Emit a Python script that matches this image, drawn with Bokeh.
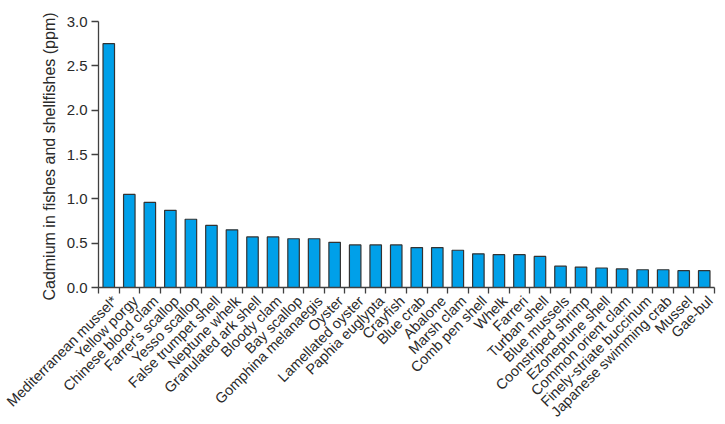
import math
from bokeh.plotting import figure
from bokeh.models import FixedTicker, NumeralTickFormatter, Range1d, ColumnDataSource
from bokeh.core.properties import value
from bokeh.embed import file_html
from bokeh.resources import INLINE

species = [
    "Mediterranean mussel*", "Yellow porgy", "Chinese blood clam", "Farrer's scallop",
    "Yesso scallop", "False trumpet shell", "Neptune whelk", "Granulated ark shell",
    "Bloody clam", "Bay scallop", "Gomphina melanaegis", "Oyster", "Lamellated oyster",
    "Paphia euglypta", "Crayfish", "Blue crab", "Abalone", "Marsh clam", "Comb pen shell",
    "Whelk", "Farreri", "Turban shell", "Blue mussels", "Coonstriped shrimp",
    "Ezoneptune shell", "Common orient clam", "Finely-striate buccinum",
    "Japanese swimming crab", "Mussel", "Gae-bul",
]
cadmium = [
    2.75, 1.05, 0.96, 0.87, 0.77, 0.70, 0.65, 0.57, 0.57, 0.55, 0.55, 0.51, 0.48,
    0.48, 0.48, 0.45, 0.45, 0.42, 0.38, 0.37, 0.37, 0.35, 0.24, 0.23, 0.22, 0.21,
    0.20, 0.20, 0.19, 0.19,
]
y_ticks = [0.0, 0.5, 1.0, 1.5, 2.0, 2.5, 3.0]
y_title = "Cadmium in fishes and shellfishes (ppm)"

n = len(species)
xpos = [i + 0.5 for i in range(n)]
src = ColumnDataSource(dict(x=xpos, top=cadmium, name=species))

FONT = "Liberation Sans"
TXT = "#2a2a2a"
AX = "#404040"

# page layout in pixels: the frame fills the whole figure; the axes sit
# inside it at value 0 so that the rotated labels have room around them.
W, H = 717, 420
LEFT, RIGHT = 98, 714          # x-axis extent
TOP, ZERO = 21, 287            # y = 3.0 and y = 0.0
Y_MAX = y_ticks[-1]
pxu = (RIGHT - LEFT) / n
pyu = (ZERO - TOP) / Y_MAX

p = figure(width=W, height=H, output_backend="svg", toolbar_location=None,
           x_range=Range1d(-LEFT / pxu, n + (W - RIGHT) / pxu),
           y_range=Range1d(-(H - ZERO) / pyu, Y_MAX + TOP / pyu),
           min_border_left=0, min_border_right=0, min_border_top=0,
           min_border_bottom=0)
p.outline_line_color = None
p.xgrid.visible = False
p.ygrid.visible = False

p.vbar(x="x", top="top", width=0.56, source=src, fill_color="#00A0E9",
       line_color="#333333", line_width=1.2)

# category labels, rotated 45 degrees, ending just under each bar
p.text(x="x", y=0, text="name", source=src, angle=math.pi / 4,
       text_align="right", text_baseline="middle", x_offset=6, y_offset=11,
       text_font=value(FONT), text_font_size="14.5px", text_color=TXT)

# y-axis title
p.text(x=[0], y=[Y_MAX / 2], text=[y_title], angle=math.pi / 2,
       text_align="center", text_baseline="middle", x_offset=-49, y_offset=2,
       text_font=value(FONT), text_font_size="16px", text_color=TXT)

# y axis
ya = p.yaxis[0]
ya.fixed_location = 0
ya.bounds = (0, Y_MAX)
ya.ticker = FixedTicker(ticks=y_ticks, minor_ticks=[])
ya.formatter = NumeralTickFormatter(format="0.0")
ya.major_label_text_font = FONT
ya.major_label_text_font_size = "15px"
ya.major_label_text_color = TXT
ya.major_label_standoff = 4
ya.major_tick_in = 0
ya.major_tick_out = 7
ya.minor_tick_in = 0
ya.minor_tick_out = 0
ya.axis_line_color = AX
ya.major_tick_line_color = AX
ya.axis_line_width = 1.3
ya.major_tick_line_width = 1.3

# x axis at value 0: ticks at category boundaries
xa = p.xaxis[0]
xa.fixed_location = 0
xa.bounds = (0, n)
xa.ticker = FixedTicker(ticks=[], minor_ticks=list(range(n + 1)))
xa.major_label_standoff = 0
xa.major_tick_in = 0
xa.major_tick_out = 0
xa.minor_tick_in = 0
xa.minor_tick_out = 6
xa.axis_line_color = AX
xa.minor_tick_line_color = AX
xa.axis_line_width = 1.3
xa.minor_tick_line_width = 1.3

open("out.html", "w").write(file_html(p, INLINE))
